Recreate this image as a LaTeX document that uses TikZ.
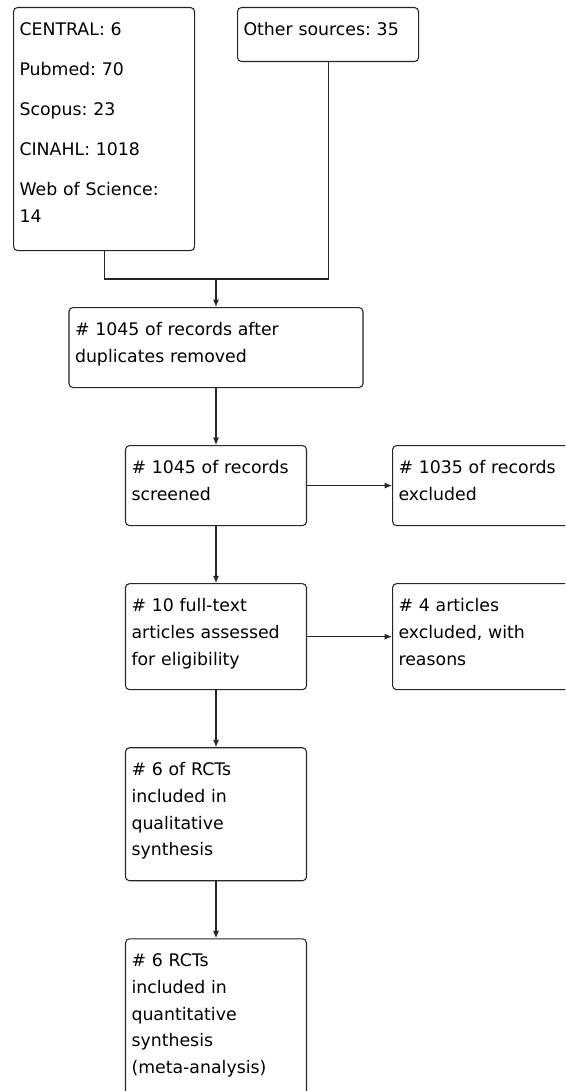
\documentclass[tikz,border=0pt]{standalone}
\usepackage{fontspec}
\setmainfont{DejaVu Sans}
\frenchspacing
\usetikzlibrary{arrows.meta,positioning}

\begin{document}
\begin{tikzpicture}[
  x=0.75pt, y=-0.75pt,
  node distance=42.75pt and 63.75pt,
  recbox/.style={rectangle, rounded corners=3pt, draw=black!85, line width=0.8pt, text width=126.75pt, align=left, inner xsep=4.5pt, inner ysep=0pt, text height=21pt, font=\fontsize{13pt}{20pt}\selectfont},
  arrow/.style={-{Latex[length=5.5pt,width=4.5pt]}, line width=0.8pt, draw=black!85},
  link/.style={line width=0.8pt, draw=black!85}
]
\clip (0,0) rectangle (565,1091);

\node[recbox, anchor=north west, text depth=161.25pt] (dbs) at (13,7) {CENTRAL: 6\\[10pt] Pubmed: 70\\[10pt] Scopus: 23\\[10pt] CINAHL: 1018\\[10pt] Web of Science:\\ 14};
\node[recbox, anchor=north west, text depth=19.5pt] (other) at (237,7) {Other sources: 35};
\coordinate (merge) at (216,279);

\node[recbox, anchor=north, text width=211.5pt, text depth=39pt] (dedup) at (216,307) {\# 1045 of records after\\ duplicates removed};
\node[recbox, below=of dedup, text depth=39pt] (screen) {\# 1045 of records\\ screened};
\node[recbox, right=of screen, text depth=39pt] (excl) {\# 1035 of records\\ excluded};
\node[recbox, below=of screen, text depth=58.5pt] (full) {\# 10 full-text\\ articles assessed\\ for eligibility};
\node[recbox, right=of full, text depth=58.5pt] (reasons) {\# 4 articles\\ excluded, with\\ reasons};
\node[recbox, below=of full, text depth=78.75pt] (qual) {\# 6 of RCTs\\ included in\\ qualitative\\ synthesis};
\node[recbox, below=of qual, text depth=114pt] (quant) {\# 6 RCTs\\ included in\\ quantitative\\ synthesis\\ (meta-analysis)};

\draw[link] (dbs.south) |- (merge) -| (other.south);
\draw[arrow] (merge) -- (dedup);
\draw[arrow] (dedup) -- (screen);
\draw[arrow] (screen) -- (excl);
\draw[arrow] (screen) -- (full);
\draw[arrow] (full) -- (reasons);
\draw[arrow] (full) -- (qual);
\draw[arrow] (qual) -- (quant);

\end{tikzpicture}
\end{document}
